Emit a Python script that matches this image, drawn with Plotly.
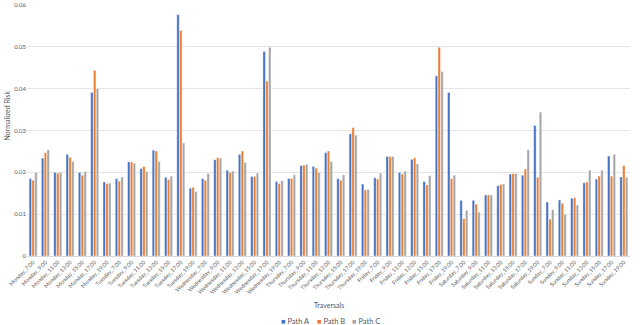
import plotly.graph_objects as go

DAYS = ['Monday', 'Tuesday', 'Wednesday', 'Thursday', 'Friday', 'Saturday', 'Sunday']
TIMES = ['7:00', '9:00', '11:00', '13:00', '15:00', '17:00', '19:00']
traversals = [d + '_' + t for d in DAYS for t in TIMES]

path_a = [0.0185, 0.0234, 0.0200, 0.0243, 0.0200, 0.0391, 0.0177,
          0.0185, 0.0225, 0.0209, 0.0253, 0.0188, 0.0577, 0.0162,
          0.0185, 0.0230, 0.0205, 0.0243, 0.0190, 0.0489, 0.0178,
          0.0185, 0.0216, 0.0214, 0.0247, 0.0185, 0.0292, 0.0172,
          0.0187, 0.0238, 0.0200, 0.0231, 0.0178, 0.0431, 0.0391,
          0.0133, 0.0133, 0.0146, 0.0168, 0.0196, 0.0193, 0.0312,
          0.0129, 0.0134, 0.0138, 0.0175, 0.0184, 0.0239, 0.0189]
path_b = [0.0181, 0.0247, 0.0198, 0.0236, 0.0193, 0.0444, 0.0173,
          0.0179, 0.0225, 0.0214, 0.0251, 0.0183, 0.0539, 0.0164,
          0.0181, 0.0235, 0.0200, 0.0251, 0.0190, 0.0418, 0.0173,
          0.0185, 0.0217, 0.0210, 0.0251, 0.0181, 0.0307, 0.0158,
          0.0184, 0.0238, 0.0196, 0.0235, 0.0170, 0.0499, 0.0185,
          0.0089, 0.0124, 0.0146, 0.0171, 0.0197, 0.0208, 0.0188,
          0.0088, 0.0126, 0.0139, 0.0177, 0.0191, 0.0191, 0.0216]
path_c = [0.0200, 0.0254, 0.0200, 0.0226, 0.0202, 0.0400, 0.0174,
          0.0189, 0.0222, 0.0202, 0.0226, 0.0191, 0.0270, 0.0154,
          0.0197, 0.0234, 0.0203, 0.0224, 0.0198, 0.0499, 0.0180,
          0.0194, 0.0219, 0.0200, 0.0226, 0.0194, 0.0289, 0.0159,
          0.0198, 0.0238, 0.0203, 0.0220, 0.0192, 0.0441, 0.0193,
          0.0109, 0.0105, 0.0146, 0.0172, 0.0197, 0.0254, 0.0344,
          0.0111, 0.0100, 0.0122, 0.0205, 0.0205, 0.0243, 0.0188]

series = [('Path A', path_a, '#4472C4'),
          ('Path B', path_b, '#ED7D31'),
          ('Path C', path_c, '#A5A5A5')]

grey = '#595959'

fig = go.Figure()
notes = []
for i, (name, vals, colour) in enumerate(series):
    fig.add_trace(go.Bar(x=traversals, y=vals, name=name,
                         marker=dict(color=colour,
                                     line=dict(color='white', width=0.4))))
    # legend drawn as text so the entries sit close together like the original
    notes.append(dict(text='<span style="color:%s">■</span> %s' % (colour, name),
                      xref='paper', yref='paper', x=0.5, y=0,
                      xshift=(i - 1) * 35 + 2, yshift=-65, showarrow=False,
                      font=dict(size=7.5, color=grey), yanchor='middle'))

notes.append(dict(text='Traversals', xref='paper', yref='paper', x=0.5, y=0,
                  yshift=-49, showarrow=False, font=dict(size=7, color=grey),
                  yanchor='middle'))
notes.append(dict(text='Normalized Risk', xref='paper', yref='paper', x=0,
                  y=0.56, xshift=-20, textangle=-90, showarrow=False,
                  font=dict(size=7, color=grey), xanchor='center'))

fig.update_layout(
    width=640, height=325,
    margin=dict(l=27, r=10, t=5, b=69, autoexpand=False),
    paper_bgcolor='white', plot_bgcolor='white',
    font=dict(family='Lato, Open Sans, sans-serif', color=grey, size=6),
    barmode='group', bargap=0.32, bargroupgap=0.12,
    showlegend=False,
    xaxis=dict(tickangle=-45, tickfont=dict(size=5.5, color=grey),
               showline=True, linecolor='#D9D9D9', linewidth=1,
               ticks='', automargin=False),
    yaxis=dict(range=[0, 0.06], dtick=0.01, tickformat='.2~f',
               showgrid=True, gridcolor='#E4E4E4', gridwidth=1,
               zeroline=False, showline=False, ticks='',
               tickfont=dict(size=6, color=grey),
               automargin=False),
    annotations=notes,
)

fig.write_html('out.html', config={'displayModeBar': False},
               post_script="document.body.style.margin='0';")
